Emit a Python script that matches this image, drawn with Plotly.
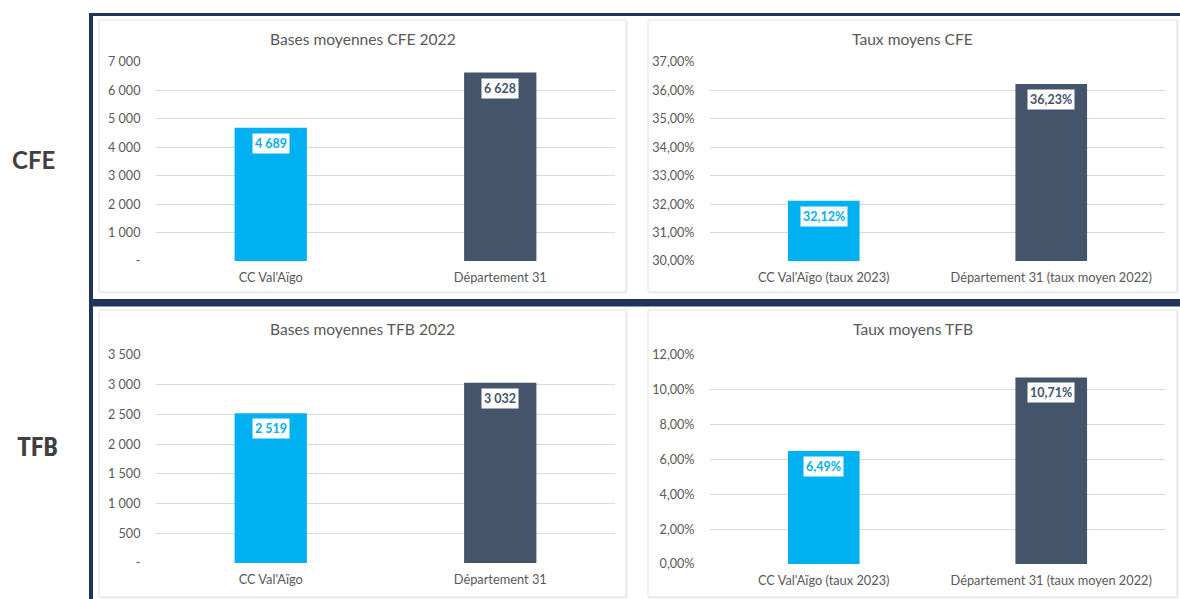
import plotly.graph_objects as go

# ---------------- data ----------------
categories_bases = ["CC Val'Aïgo", "Département 31"]
categories_taux = ["CC Val'Aïgo (taux 2023)", "Département 31 (taux moyen 2022)"]

bases_cfe = [4689, 6628]
taux_cfe = [32.12, 36.23]
bases_tfb = [2519, 3032]
taux_tfb = [6.49, 10.71]

titles = ["Bases moyennes CFE 2022", "Taux moyens CFE",
          "Bases moyennes TFB 2022", "Taux moyens TFB"]
row_labels = ["CFE", "TFB"]

tickvals_bases_cfe = [0, 1000, 2000, 3000, 4000, 5000, 6000, 7000]
ticktext_bases_cfe = ["-", "1 000", "2 000", "3 000", "4 000", "5 000", "6 000", "7 000"]
tickvals_taux_cfe = [30, 31, 32, 33, 34, 35, 36, 37]
ticktext_taux_cfe = ["30,00%", "31,00%", "32,00%", "33,00%", "34,00%", "35,00%", "36,00%", "37,00%"]
tickvals_bases_tfb = [0, 500, 1000, 1500, 2000, 2500, 3000, 3500]
ticktext_bases_tfb = ["-", "500", "1 000", "1 500", "2 000", "2 500", "3 000", "3 500"]
tickvals_taux_tfb = [0, 2, 4, 6, 8, 10, 12]
ticktext_taux_tfb = ["0,00%", "2,00%", "4,00%", "6,00%", "8,00%", "10,00%", "12,00%"]

# ---------------- style ----------------
W, H = 1180, 599
BLUE = "#00B0F0"
SLATE = "#44546A"
NAVY = "#1F3458"
GRID = "#D9D9D9"
TXT = "#595959"
FONT = "Lato, Noto Sans, sans-serif"
bar_colors = [BLUE, SLATE]


def px(x):
    return x / W


def py(y):
    return 1 - y / H


def fmt_int(v):
    return f"{v:,.0f}".replace(",", " ")


def fmt_pct(v):
    return f"{v:.2f}%".replace(".", ",")


panels = [
    dict(cats=categories_bases, vals=bases_cfe, tv=tickvals_bases_cfe, tt=ticktext_bases_cfe,
         rng=[0, 7000], plot=(156, 615, 62, 261), card=(99, 626, 20, 292), title=titles[0], fmt=fmt_int),
    dict(cats=categories_taux, vals=taux_cfe, tv=tickvals_taux_cfe, tt=ticktext_taux_cfe,
         rng=[30, 37], plot=(710, 1165, 62, 261), card=(648, 1177, 20, 292), title=titles[1], fmt=fmt_pct),
    dict(cats=categories_bases, vals=bases_tfb, tv=tickvals_bases_tfb, tt=ticktext_bases_tfb,
         rng=[0, 3500], plot=(156, 615, 355, 563), card=(99, 626, 310, 597), title=titles[2], fmt=fmt_int),
    dict(cats=categories_taux, vals=taux_tfb, tv=tickvals_taux_tfb, tt=ticktext_taux_tfb,
         rng=[0, 12], plot=(710, 1165, 355, 564), card=(648, 1177, 310, 597), title=titles[3], fmt=fmt_pct),
]

fig = go.Figure()
shapes = []
annotations = []

# frame
shapes.append(dict(type="rect", xref="paper", yref="paper", x0=px(89), x1=px(1180), y0=py(16), y1=py(13),
                   fillcolor=NAVY, line=dict(width=0), layer="below"))
shapes.append(dict(type="rect", xref="paper", yref="paper", x0=px(89), x1=px(93), y0=py(599), y1=py(13),
                   fillcolor=NAVY, line=dict(width=0), layer="below"))
shapes.append(dict(type="rect", xref="paper", yref="paper", x0=px(89), x1=px(1180), y0=py(306.5), y1=py(299),
                   fillcolor=NAVY, line=dict(width=0), layer="below"))

for i, p in enumerate(panels):
    n = "" if i == 0 else str(i + 1)
    xa, ya = "x" + n, "y" + n
    x0, x1, y0, y1 = p["plot"]
    cx0, cx1, cy0, cy1 = p["card"]

    # faint shadow + card
    shapes.append(dict(type="rect", xref="paper", yref="paper", x0=px(cx0 + 1), x1=px(cx1 + 1.5),
                       y0=py(cy1 + 1.5), y1=py(cy0 + 1),
                       fillcolor="#EFEFEF", line=dict(width=0), layer="below"))
    shapes.append(dict(type="rect", xref="paper", yref="paper", x0=px(cx0), x1=px(cx1), y0=py(cy1), y1=py(cy0),
                       fillcolor="white", line=dict(color="#E2E2E2", width=1), layer="below"))

    fig.add_trace(go.Bar(x=p["cats"], y=p["vals"], marker=dict(color=bar_colors, line=dict(width=0)),
                         width=0.315, xaxis=xa, yaxis=ya, showlegend=False, hoverinfo="skip"))

    fig.layout["xaxis" + n] = dict(domain=[px(x0), px(x1)], anchor=ya, showgrid=False, zeroline=False,
                                   showline=False, ticks="outside", ticklen=5, tickcolor="rgba(0,0,0,0)",
                                   automargin=False,
                                   tickfont=dict(family=FONT, size=12.8, color=TXT), fixedrange=True)
    fig.layout["yaxis" + n] = dict(domain=[py(y1), py(y0)], anchor=xa, range=p["rng"], tickmode="array",
                                   tickvals=p["tv"], ticktext=p["tt"], showgrid=True, gridcolor=GRID,
                                   gridwidth=1, zeroline=False, showline=False, ticks="outside", ticklen=12,
                                   tickcolor="rgba(0,0,0,0)", automargin=False,
                                   tickfont=dict(family=FONT, size=12.6, color=TXT), fixedrange=True)

    annotations.append(dict(xref="paper", yref="paper", x=px((cx0 + cx1) / 2), y=py(cy0 + 19),
                            text=p["title"], showarrow=False, xanchor="center", yanchor="middle",
                            font=dict(family=FONT, size=15.6, color=TXT)))

    for c, v, col in zip(p["cats"], p["vals"], bar_colors):
        annotations.append(dict(xref=xa, yref=ya, x=c, y=v, text="<b>" + p["fmt"](v) + "</b>",
                                showarrow=False, xanchor="center", yanchor="top", yshift=-5,
                                bgcolor="white", borderpad=2,
                                font=dict(family=FONT, size=12.5, color=col)))

annotations.append(dict(xref="paper", yref="paper", x=px(33), y=py(159), text="<b>" + row_labels[0] + "</b>",
                        showarrow=False, xanchor="center", yanchor="middle",
                        font=dict(family="Lato, sans-serif", size=24, color="#404040")))
annotations.append(dict(xref="paper", yref="paper", x=px(37), y=py(447), text="<b>" + row_labels[1] + "</b>",
                        showarrow=False, xanchor="center", yanchor="middle",
                        font=dict(family="Liberation Sans Narrow, Roboto Condensed, Roboto, sans-serif",
                                  size=26, color="#404040")))

fig.update_layout(width=W, height=H, margin=dict(l=0, r=0, t=0, b=0, pad=0, autoexpand=False),
                  paper_bgcolor="white", plot_bgcolor="rgba(0,0,0,0)", shapes=shapes,
                  annotations=annotations, bargap=0.6, showlegend=False)

fig.write_html("out.html", config=dict(displayModeBar=False),
               post_script="document.body.style.margin='0';document.body.style.overflow='hidden';")
